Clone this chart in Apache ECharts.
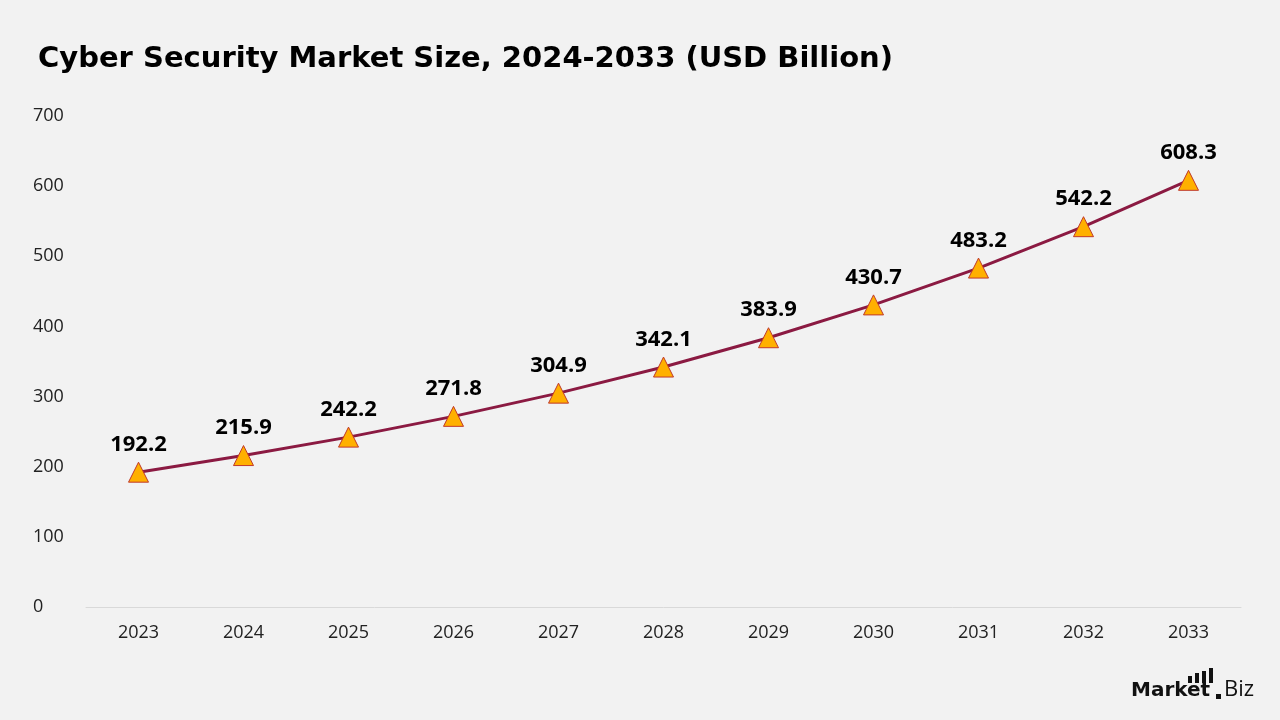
<!DOCTYPE html>
<html><head><meta charset="utf-8">
<script src="https://cdn.jsdelivr.net/npm/echarts@6/dist/echarts.min.js"></script>
<style>html,body{margin:0;padding:0;background:#f2f2f2}#c{width:1280px;height:720px}</style>
</head><body><div id="c"></div>
<script>
const years = ['2023','2024','2025','2026','2027','2028','2029','2030','2031','2032','2033'];
const marketSize = [192.2,215.9,242.2,271.8,304.9,342.1,383.9,430.7,483.2,542.2,608.3];
const yTicks = [0,100,200,300,400,500,600,700];

const chart = echarts.init(document.getElementById('c'));
chart.setOption({
  backgroundColor:'#f2f2f2',
  title:{text:'Cyber Security Market Size, 2024-2033 (USD Billion)',left:33,top:40,
    textStyle:{fontFamily:'DejaVu Sans',fontWeight:'bold',fontSize:29,color:'#000'}},
  grid:{left:86,right:39,top:116,bottom:113},
  xAxis:{type:'category',data:years,boundaryGap:true,
    axisLine:{lineStyle:{color:'#d9d9d9'}},axisTick:{show:false},
    axisLabel:{color:'#222',fontSize:18,fontFamily:'Open Sans',margin:17}},
  yAxis:{type:'value',min:yTicks[0],max:yTicks[yTicks.length-1],interval:100,
    splitLine:{show:false},axisLine:{show:false},axisTick:{show:false},
    axisLabel:{color:'#222',fontSize:18,fontFamily:'Open Sans',align:'left',margin:53}},
  series:[{type:'line',data:marketSize,symbol:'triangle',symbolSize:20,
    lineStyle:{color:'#8b1a42',width:3},
    itemStyle:{color:'#ffb000',borderColor:'#c0392b',borderWidth:1},
    label:{show:true,position:'top',distance:6,fontFamily:'Open Sans',fontWeight:'bold',fontSize:22,color:'#000',
      formatter:p=>p.value.toFixed(1)}}],
  graphic:[
    {type:'text',left:1131,top:681,style:{text:'Market',font:'bold 20px "DejaVu Sans"',fill:'#111'}},
    {type:'text',left:1224,top:679,style:{text:'Biz',font:'22px "Open Sans"',fill:'#111'}},
    {type:'rect',shape:{x:1216,y:694,width:5,height:5},style:{fill:'#111'}},
    {type:'rect',shape:{x:1188,y:676,width:4,height:7},style:{fill:'#111'}},
    {type:'rect',shape:{x:1195,y:673,width:4,height:10},style:{fill:'#111'}},
    {type:'rect',shape:{x:1202,y:671,width:4,height:12},style:{fill:'#111'}},
    {type:'rect',shape:{x:1209,y:668,width:4,height:15},style:{fill:'#111'}}
  ]
});
</script></body></html>
